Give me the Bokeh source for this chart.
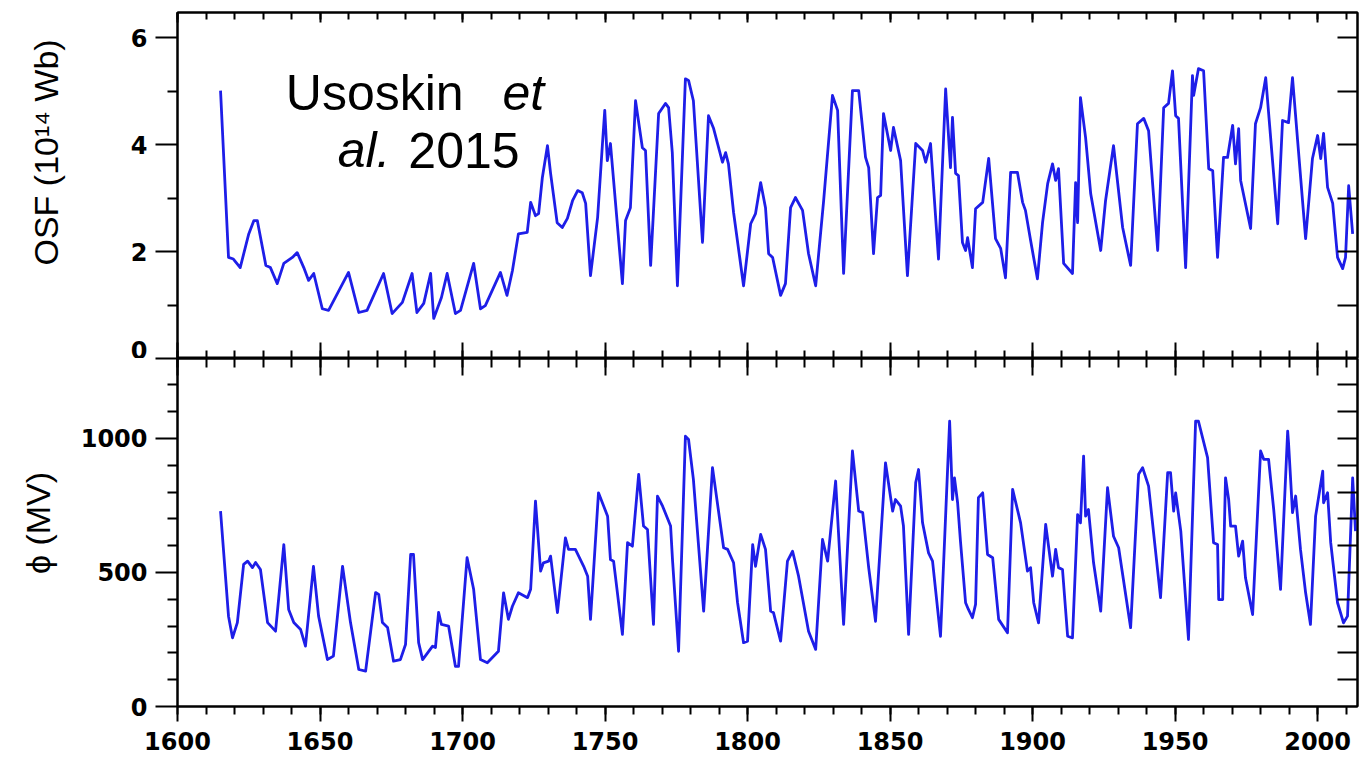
from bokeh.plotting import figure
from bokeh.layouts import column
from bokeh.models import (Range1d, LinearAxis, FixedTicker, SingleIntervalTicker,
                          CustomJSTickFormatter, Label)
from bokeh.embed import file_html
from bokeh.resources import INLINE

# ---------------- data ----------------
osf_years = [1615.1, 1617.9, 1619.6, 1622.0, 1625.0, 1626.8, 1628.0, 1631.0, 1632.6, 1635.0,
             1637.3, 1640.3, 1642.0, 1644.3, 1646.0, 1647.8, 1650.8, 1653.0, 1660.0, 1663.6,
             1666.5, 1672.3, 1675.3, 1678.9, 1682.3, 1684.0, 1686.4, 1688.8, 1689.9, 1692.6,
             1694.6, 1697.5, 1699.3, 1703.9, 1706.3, 1708.0, 1713.3, 1715.6, 1717.5, 1719.6,
             1722.7, 1723.9, 1725.6, 1726.7, 1728.0, 1729.8, 1730.9, 1733.2, 1735.0, 1736.8,
             1738.6, 1740.4, 1742.0, 1743.2, 1744.9, 1747.4, 1749.1, 1749.9, 1750.8, 1751.9,
             1756.1, 1757.2, 1758.9, 1760.7, 1763.1, 1764.2, 1766.0, 1768.8, 1771.2, 1772.3,
             1773.6, 1775.4, 1778.2, 1779.3, 1781.0, 1784.2, 1786.3, 1788.1, 1791.2, 1792.3,
             1793.3, 1795.1, 1798.6, 1801.1, 1802.8, 1804.6, 1806.3, 1807.4, 1808.8, 1811.6,
             1813.3, 1815.1, 1816.8, 1819.3, 1821.4, 1823.9, 1826.7, 1829.8, 1831.6, 1833.7,
             1836.8, 1839.0, 1841.4, 1842.5, 1844.2, 1845.6, 1846.7, 1847.7, 1850.2, 1851.2,
             1853.7, 1856.1, 1859.0, 1861.4, 1862.5, 1864.2, 1867.0, 1869.5, 1871.2, 1871.9,
             1873.0, 1874.0, 1875.4, 1876.5, 1877.2, 1878.9, 1880.0, 1882.5, 1884.6, 1887.0,
             1888.8, 1890.5, 1892.3, 1894.7, 1896.5, 1897.5, 1899.3, 1901.7, 1903.5, 1905.3,
             1907.0, 1908.1, 1909.1, 1910.9, 1914.0, 1915.1, 1915.8, 1916.8, 1918.6, 1920.4,
             1923.9, 1925.6, 1928.4, 1931.6, 1934.4, 1936.8, 1939.0, 1940.7, 1943.9, 1946.0,
             1947.7, 1949.1, 1950.2, 1951.2, 1953.7, 1956.1, 1956.5, 1958.2, 1960.0, 1961.8,
             1963.2, 1964.9, 1967.0, 1968.4, 1970.2, 1971.2, 1972.3, 1973.0, 1976.5, 1978.2,
             1980.0, 1981.8, 1986.0, 1987.7, 1989.8, 1991.2, 1993.0, 1995.8, 1998.2, 2000.0,
             2001.1, 2002.1, 2003.5, 2005.3, 2007.0, 2008.8, 2009.8, 2010.9, 2012.3]
osf_values = [5.01, 1.89, 1.86, 1.70, 2.33, 2.58, 2.58, 1.74, 1.70, 1.40,
              1.78, 1.89, 1.98, 1.70, 1.46, 1.59, 0.93, 0.90, 1.61, 0.86,
              0.90, 1.59, 0.84, 1.05, 1.59, 0.86, 1.03, 1.59, 0.75, 1.14,
              1.59, 0.84, 0.90, 1.78, 0.93, 0.99, 1.61, 1.18, 1.64, 2.33,
              2.36, 2.92, 2.67, 2.71, 3.38, 3.98, 3.46, 2.54, 2.45, 2.62,
              2.95, 3.14, 3.10, 2.90, 1.55, 2.64, 4.02, 4.64, 3.70, 4.02,
              1.40, 2.58, 2.82, 4.82, 3.94, 3.89, 1.74, 4.58, 4.77, 4.69,
              3.85, 1.36, 5.23, 5.20, 4.82, 2.17, 4.54, 4.30, 3.67, 3.85,
              3.64, 2.73, 1.36, 2.52, 2.71, 3.29, 2.82, 1.96, 1.89, 1.18,
              1.40, 2.82, 3.01, 2.77, 1.96, 1.36, 2.95, 4.92, 4.64, 1.59,
              5.01, 5.01, 3.76, 3.57, 1.96, 3.01, 3.05, 4.58, 3.89, 4.32,
              3.70, 1.55, 4.02, 3.89, 3.67, 4.02, 1.86, 5.04, 3.57, 4.51,
              3.46, 3.42, 2.17, 2.02, 2.26, 1.70, 2.80, 2.92, 3.74, 2.24,
              2.06, 1.51, 3.48, 3.48, 2.92, 2.77, 2.21, 1.49, 2.54, 3.27,
              3.64, 3.33, 3.55, 1.78, 1.59, 3.29, 2.54, 4.88, 4.13, 3.08,
              2.02, 2.95, 3.98, 2.45, 1.74, 4.39, 4.49, 4.26, 2.02, 4.69,
              4.77, 5.38, 4.54, 4.49, 1.70, 5.29, 4.92, 5.42, 5.38, 3.55,
              3.51, 1.89, 3.76, 3.76, 4.36, 3.64, 4.30, 3.33, 2.43, 4.39,
              4.69, 5.25, 2.52, 4.45, 4.41, 5.25, 4.07, 2.24, 3.74, 4.17,
              3.74, 4.21, 3.20, 2.90, 1.89, 1.68, 1.89, 3.23, 2.33]

phi_years = [1615.1, 1617.9, 1619.3, 1621.0, 1623.2, 1624.6, 1626.3, 1627.4, 1629.1, 1631.6,
             1634.4, 1637.3, 1639.0, 1640.8, 1643.2, 1644.9, 1647.7, 1649.5, 1652.6, 1654.7,
             1657.9, 1660.7, 1663.6, 1666.0, 1669.5, 1670.6, 1671.9, 1673.7, 1675.8, 1678.2,
             1680.0, 1681.8, 1682.8, 1684.6, 1686.0, 1689.5, 1690.5, 1691.6, 1692.6, 1695.1,
             1697.5, 1698.6, 1701.6, 1703.9, 1706.3, 1708.7, 1712.6, 1714.4, 1716.1, 1717.5,
             1719.6, 1722.8, 1723.9, 1725.6, 1727.4, 1728.4, 1730.2, 1730.9, 1733.3, 1736.1,
             1737.2, 1739.6, 1742.5, 1743.9, 1744.9, 1747.7, 1750.9, 1751.9, 1753.0, 1756.1,
             1757.9, 1759.6, 1761.8, 1763.5, 1764.9, 1767.0, 1768.4, 1770.2, 1773.0, 1773.7,
             1775.8, 1778.2, 1779.3, 1781.0, 1784.6, 1787.7, 1791.6, 1793.0, 1795.1, 1796.5,
             1798.6, 1800.0, 1801.8, 1802.8, 1804.6, 1806.3, 1808.1, 1809.1, 1811.6, 1814.0,
             1815.8, 1817.9, 1821.4, 1823.9, 1826.3, 1828.1, 1830.9, 1833.7, 1836.8, 1839.0,
             1840.4, 1842.5, 1844.9, 1848.4, 1850.9, 1851.9, 1853.7, 1854.7, 1856.5, 1859.0,
             1860.0, 1861.4, 1863.5, 1864.9, 1867.7, 1870.9, 1871.9, 1872.6, 1873.7, 1874.7,
             1876.5, 1877.5, 1878.9, 1880.0, 1881.0, 1882.5, 1884.2, 1886.0, 1888.1, 1891.2,
             1893.0, 1895.8, 1898.2, 1899.3, 1900.4, 1902.1, 1904.6, 1907.0, 1908.1, 1909.1,
             1910.5, 1912.3, 1914.0, 1915.8, 1916.8, 1917.9, 1918.6, 1919.6, 1921.4, 1923.9,
             1926.3, 1928.4, 1930.2, 1934.4, 1937.2, 1938.6, 1940.7, 1944.9, 1947.4, 1948.4,
             1949.5, 1950.2, 1952.0, 1954.7, 1957.2, 1958.2, 1961.4, 1963.5, 1964.9, 1965.3,
             1966.7, 1967.7, 1968.8, 1969.5, 1971.2, 1972.3, 1973.7, 1974.7, 1977.2, 1980.0,
             1981.1, 1982.8, 1984.6, 1987.0, 1989.5, 1989.8, 1991.2, 1992.3, 1994.0, 1995.8,
             1997.5, 1999.3, 2001.8, 2002.1, 2003.5, 2004.6, 2007.0, 2009.1, 2010.5, 2012.3,
             2013.3]
phi_values = [729, 337, 256, 313, 530, 542, 518, 537, 511, 313,
              281, 604, 362, 313, 287, 225, 523, 337, 175, 188,
              523, 313, 138, 132, 425, 418, 313, 295, 169, 175,
              231, 567, 567, 238, 175, 225, 220, 351, 306, 300,
              150, 150, 555, 437, 175, 163, 206, 424, 325, 374,
              424, 406, 437, 766, 505, 536, 542, 561, 350, 629,
              586, 586, 523, 486, 325, 797, 710, 548, 542, 269,
              611, 598, 866, 673, 660, 306, 785, 747, 673, 542,
              206, 1008, 996, 847, 356, 891, 592, 586, 536, 387,
              238, 244, 604, 523, 642, 586, 356, 350, 244, 542,
              579, 486, 281, 213, 623, 542, 841, 306, 953, 729,
              723, 518, 318, 909, 729, 772, 747, 673, 269, 835,
              884, 685, 573, 542, 262, 1064, 772, 853, 760, 617,
              387, 362, 331, 381, 779, 797, 567, 555, 325, 275,
              810, 685, 505, 518, 387, 312, 679, 486, 586, 518,
              511, 262, 256, 716, 685, 934, 710, 735, 536, 356,
              816, 635, 592, 294, 866, 891, 822, 406, 872, 872,
              729, 797, 654, 250, 1064, 1064, 928, 611, 604, 399,
              399, 853, 772, 673, 673, 561, 617, 480, 343, 953,
              922, 922, 735, 437, 1027, 984, 723, 785, 586, 424,
              306, 710, 878, 760, 797, 611, 387, 312, 337, 853,
              654]

x_major = 50
osf_major = [0, 2, 4, 6]
osf_minor = [1, 3, 5]
osf_right = [1, 2, 3, 4, 5, 6]
phi_major = [0, 500, 1000]
phi_minor = [100, 200, 300, 400, 600, 700, 800, 900, 1100, 1200]
phi_right = [100, 200, 300, 400, 500, 600, 700, 800, 900, 1000, 1100, 1200]

osf_title = "OSF (10\u00b9\u2074 Wb)"
phi_title = "\u03d5 (MV)"
NBSP = "\u00a0"

# ---------------- styling ----------------
W = 1362
LEFT = 177
RIGHT = 5
X0, X1 = 1600, 2014
OSF_TOP = 6.47
PHI_TOP = 1298
LINE_COLOR = "#1e1ee8"
TICK_FONT = "DejaVu Sans"
TITLE_FONT = "Liberation Sans"


def empty_fmt():
    return CustomJSTickFormatter(code="return ''")


def style_axis(ax, tin=0, tout=0, min_in=0, min_out=0, labels=False):
    ax.axis_line_color = "black"
    ax.axis_line_width = 2
    ax.major_tick_line_color = "black"
    ax.major_tick_line_width = 2
    ax.minor_tick_line_color = "black"
    ax.minor_tick_line_width = 2
    ax.major_tick_in = tin
    ax.major_tick_out = tout
    ax.minor_tick_in = min_in
    ax.minor_tick_out = min_out
    if labels:
        ax.major_label_text_font = TICK_FONT
        ax.major_label_text_font_style = "bold"
        ax.major_label_text_font_size = "24px"
        ax.major_label_text_color = "black"
    else:
        ax.formatter = empty_fmt()
        ax.major_label_text_font_size = "0px"
        ax.major_label_standoff = 0


def style_title(ax, standoff):
    ax.axis_label_standoff = standoff
    ax.axis_label_text_font = TITLE_FONT
    ax.axis_label_text_font_style = "normal"
    ax.axis_label_text_font_size = "34px"
    ax.axis_label_text_color = "black"


def make_fig(height, y_end, top, bottom, x_range):
    p = figure(width=W, height=height, x_range=x_range, y_range=Range1d(0, y_end),
               output_backend="svg", toolbar_location=None,
               x_axis_location=None, y_axis_location=None,
               min_border_left=LEFT, min_border_right=RIGHT,
               min_border_top=top, min_border_bottom=bottom)
    p.xgrid.visible = False
    p.ygrid.visible = False
    p.outline_line_color = "black"
    p.outline_line_width = 2
    p.background_fill_color = "white"
    p.border_fill_color = "white"
    return p


# ---------------- top panel: OSF ----------------
p1 = make_fig(358, OSF_TOP, 12, 0, Range1d(X0, X1))
p1.line(osf_years, osf_values, line_color=LINE_COLOR, line_width=2.8, line_join="round")

ax = LinearAxis(ticker=SingleIntervalTicker(interval=x_major, num_minor_ticks=5))
style_axis(ax, tin=10, min_in=7)
p1.add_layout(ax, "above")

ax = LinearAxis(ticker=SingleIntervalTicker(interval=x_major, num_minor_ticks=5))
style_axis(ax, tin=16, min_in=8)
p1.add_layout(ax, "below")

# leading no-break spaces move the centred title up, as in the reference
ax = LinearAxis(ticker=FixedTicker(ticks=osf_major, minor_ticks=osf_minor),
                axis_label=NBSP * 7 + osf_title)
style_axis(ax, tout=22, min_out=10, labels=True)
ax.major_label_standoff = 8
style_title(ax, 63)
p1.add_layout(ax, "left")

ax = LinearAxis(ticker=FixedTicker(ticks=osf_right))
style_axis(ax, tin=20)
p1.add_layout(ax, "right")

for txt, xx, yy, st in [("Usoskin", 1638.0, 4.97, "normal"),
                        ("et", 1714.0, 4.97, "italic"),
                        ("al.", 1656.2, 3.89, "italic"),
                        ("2015", 1681.0, 3.89, "normal")]:
    p1.add_layout(Label(x=xx, y=yy, text=txt, text_font=TITLE_FONT,
                        text_font_size="50px", text_font_style=st,
                        text_color="black", text_align="left",
                        text_baseline="alphabetic"))

# ---------------- bottom panel: phi ----------------
p2 = make_fig(402, PHI_TOP, 0, 54, p1.x_range)
p2.line(phi_years, phi_values, line_color=LINE_COLOR, line_width=2.8, line_join="round")

ax = LinearAxis(ticker=SingleIntervalTicker(interval=x_major, num_minor_ticks=5))
style_axis(ax, tin=17, min_in=9)
p2.add_layout(ax, "above")

ax = LinearAxis(ticker=SingleIntervalTicker(interval=x_major, num_minor_ticks=5))
style_axis(ax, tout=15, min_out=8, labels=True)
ax.major_label_standoff = 10
p2.add_layout(ax, "below")

ax = LinearAxis(ticker=FixedTicker(ticks=phi_major + [PHI_TOP], minor_ticks=phi_minor),
                axis_label=NBSP * 2 + phi_title)
style_axis(ax, tout=22, min_out=10, labels=True)
ax.major_label_overrides = {PHI_TOP: ""}
ax.major_label_standoff = 8
style_title(ax, 21)
p2.add_layout(ax, "left")

ax = LinearAxis(ticker=FixedTicker(ticks=phi_right))
style_axis(ax, tin=20)
p2.add_layout(ax, "right")

layout = column(p1, p2, spacing=0)
open("out.html", "w").write(file_html(layout, INLINE))
